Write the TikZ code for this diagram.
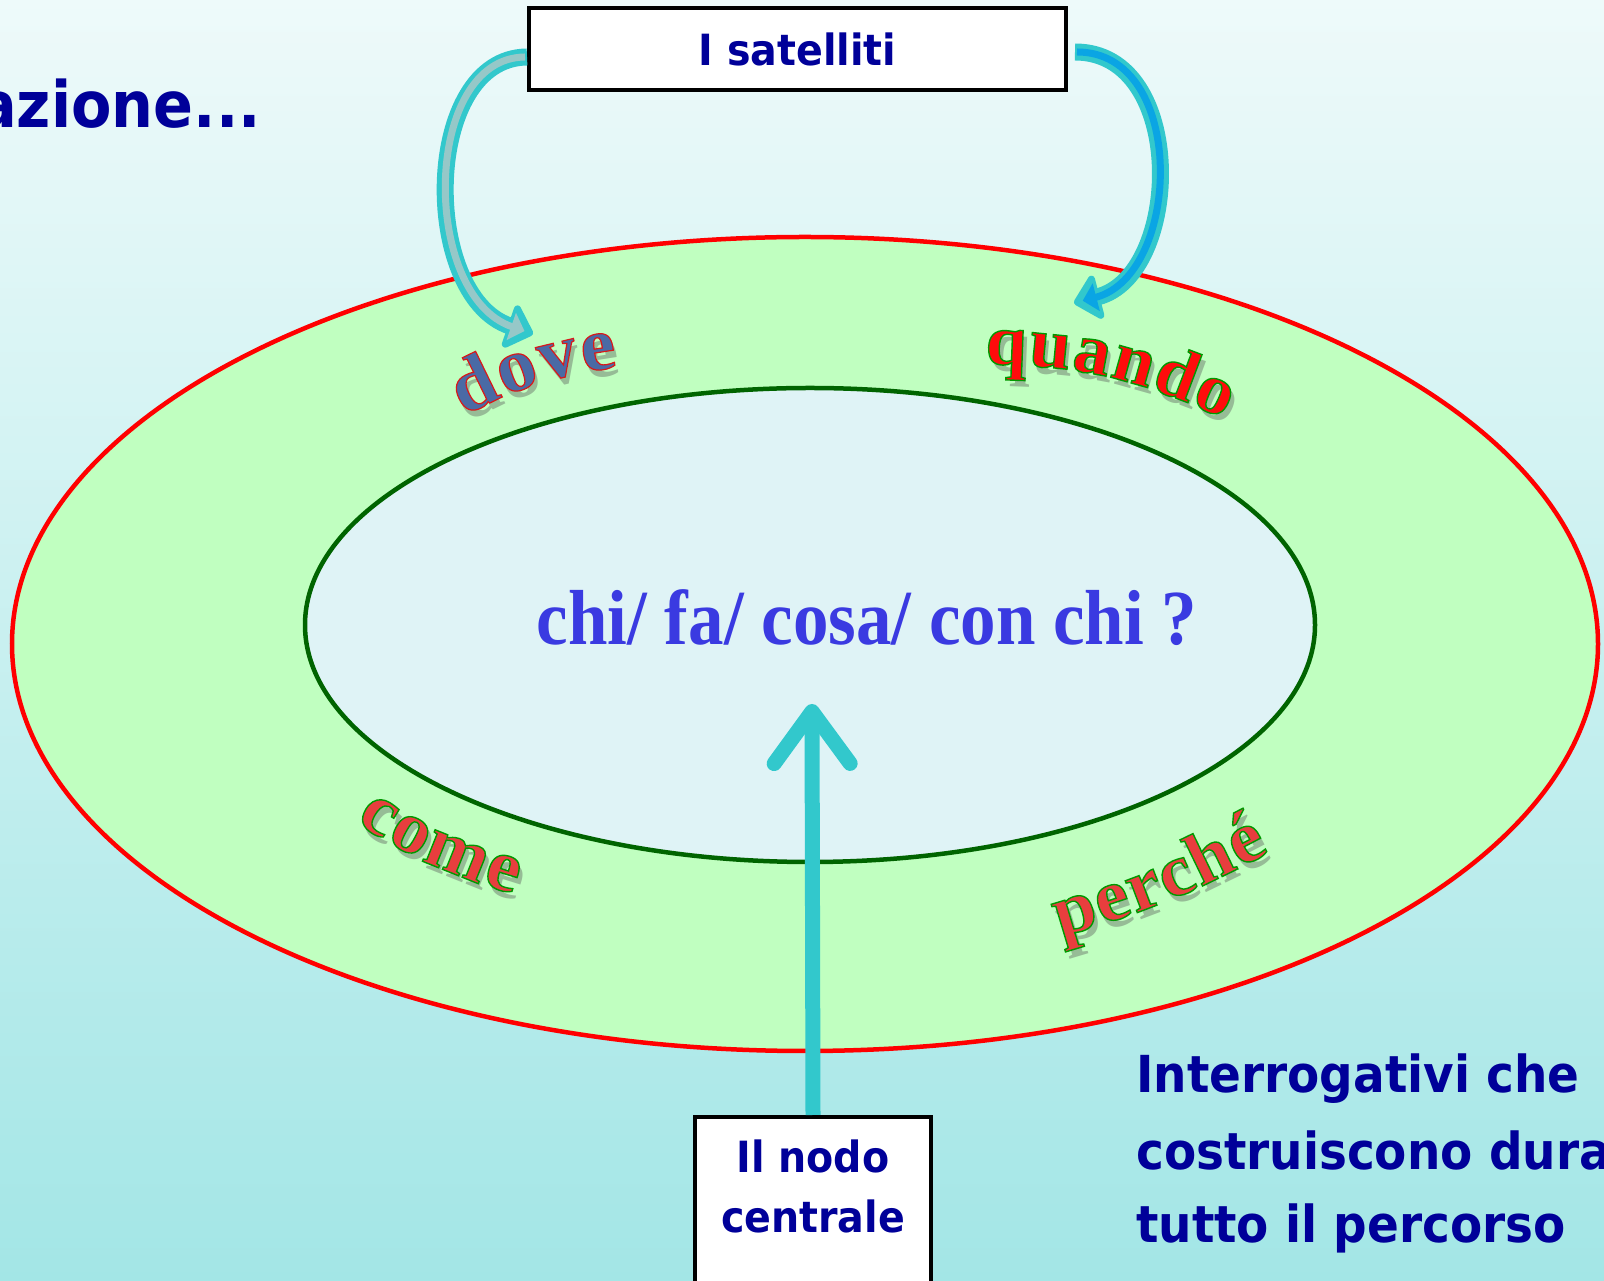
\documentclass[tikz,border=0pt]{standalone}
\usepackage{fontspec}
\setmainfont{Liberation Serif}
\newfontfamily\vfont[FakeStretch=0.92]{DejaVu Sans}
\newfontfamily\wfont[FakeStretch=1.03]{Liberation Serif}
\newfontfamily\cfont[FakeStretch=0.91]{Liberation Serif}
\usetikzlibrary{arrows.meta,decorations.text,shapes.geometric}
\definecolor{bgtop}{RGB}{238,250,250}
\definecolor{bgbot}{RGB}{163,230,230}
\definecolor{outerfill}{RGB}{192,255,192}
\definecolor{innerfill}{RGB}{223,243,246}
\definecolor{ringgreen}{RGB}{0,100,0}
\definecolor{navy}{RGB}{0,0,153}
\definecolor{turq}{RGB}{50,200,204}
\definecolor{centerblue}{RGB}{58,58,225}
\definecolor{wordred}{RGB}{255,12,12}
\definecolor{softred}{RGB}{232,62,62}
\definecolor{doveblue}{RGB}{74,106,165}
\definecolor{shadowc}{RGB}{150,188,150}
\definecolor{innerL}{RGB}{150,200,200}
\definecolor{innerR}{RGB}{10,165,228}
\newcommand\wordfmt[1]{\wfont\bfseries\fontsize{#1}{#1}\selectfont}
\newcommand\greenline{\special{pdf:literal direct 2 Tr 1.4 w 0 0.6 0 RG}}
\newcommand\redline{\special{pdf:literal direct 2 Tr 1.2 w 0.85 0.1 0.1 RG}}
\begin{document}
\begin{tikzpicture}[x=1pt,y=1pt,
  box/.style={draw=black, line width=4pt, fill=white, inner sep=0pt},
  navytext/.style={text=navy, font=\vfont\bfseries\fontsize{#1}{#1}\selectfont},
  arcword/.style 2 args={decorate, decoration={text along path, text align={fit to path}, text={|#1|#2}}}]
\useasboundingbox (0,0) rectangle (1604,1280);
\clip (0,0) rectangle (1604,1280);
\shade[top color=bgtop, bottom color=bgbot] (0,0) rectangle (1604,1280);

% rings
\node[ellipse, draw=red, line width=4.5pt, fill=outerfill, minimum width=1586pt, minimum height=814pt, inner sep=0pt] (outer) at (805,636) {};
\node[ellipse, draw=ringgreen, line width=4.5pt, fill=innerfill, minimum width=1010pt, minimum height=474pt, inner sep=0pt] (inner) at (810,655) {};

% central question
\node[anchor=base, text=centerblue, inner sep=0pt, font=\cfont\bfseries\fontsize{78}{78}\selectfont] (central) at (867,635) {chi/ fa/ cosa/ con chi ?};

% curved words: shadows
\path[arcword={\wordfmt{76}\color{shadowc}}{dove}, shift={(4,-7)}] (464,864) to[bend left=10] (618,913);
\path[arcword={\wordfmt{72}\color{shadowc}}{quando}, shift={(4,-7)}] (985,916) to[bend left=12] (1224,861);
\path[arcword={\wordfmt{74}\color{shadowc}}{come}, shift={(4,-7)}] (355,458) to[bend right=8] (514,386);
\path[arcword={\wordfmt{74}\color{shadowc}}{perché}, shift={(4,-7)}] (1060,343) to[bend right=6] (1270,428);
% curved words
\path[arcword={\wordfmt{76}\color{doveblue}\redline}{dove}] (464,864) to[bend left=10] (618,913);
\path[arcword={\wordfmt{72}\color{wordred}\greenline}{quando}] (985,916) to[bend left=12] (1224,861);
\path[arcword={\wordfmt{74}\color{softred}\greenline}{come}] (355,458) to[bend right=8] (514,386);
\path[arcword={\wordfmt{74}\color{softred}\greenline}{perché}] (1060,343) to[bend right=6] (1270,428);

% central node and its arrow
\node[box, minimum width=236pt, minimum height=175pt, anchor=north] (cen) at (813,165) {};
\coordinate (ctip) at (812,576);
\draw[turq, line width=15pt, -{Straight Barb[length=52pt, width=76pt, round]}] (cen.north) -- (ctip);
\node[navytext=43, anchor=base, inner sep=0pt] (cenA) at (813,107) {Il nodo};
\node[navytext=43, anchor=base, inner sep=0pt] (cenB) at (813,47) {centrale};
\node[box, minimum width=537pt, minimum height=82pt, navytext=43] (sat) at (797.5,1231) {I satelliti};

% side texts
\node[navytext=64, anchor=base east, inner sep=0pt] (title) at (261,1152) {azione...};
\node[navytext=51, anchor=base west, inner sep=0pt] (int1) at (1136,187) {Interrogativi che};
\node[navytext=51, anchor=base west, inner sep=0pt] (int2) at (1136,110) {costruiscono dura};
\node[navytext=51, anchor=base west, inner sep=0pt] (int3) at (1136,37) {tutto il percorso};

% curved block arrows
\coordinate (dtip) at (533,946);
\coordinate (qtip) at (1074,977);
\draw[turq, line width=17pt, -{Triangle[length=28pt, width=52pt, round]}] ([yshift=-8pt]sat.west) .. controls (422,1222) and (420,985) .. (dtip);
\draw[innerL, line width=7pt, shorten >=9pt, -{Triangle[length=14pt, width=28pt]}] ([shift={(-2pt,-8pt)}]sat.west) .. controls (422,1222) and (420,985) .. (dtip);
\draw[turq, line width=17pt, -{Triangle[length=28pt, width=52pt, round]}] ([shift={(7pt,-3pt)}]sat.east) .. controls (1188,1228) and (1182,1005) .. (qtip);
\draw[innerR, line width=7pt, shorten >=9pt, -{Triangle[length=14pt, width=28pt]}] ([shift={(9pt,-3pt)}]sat.east) .. controls (1188,1228) and (1182,1005) .. (qtip);
\end{tikzpicture}
\end{document}
